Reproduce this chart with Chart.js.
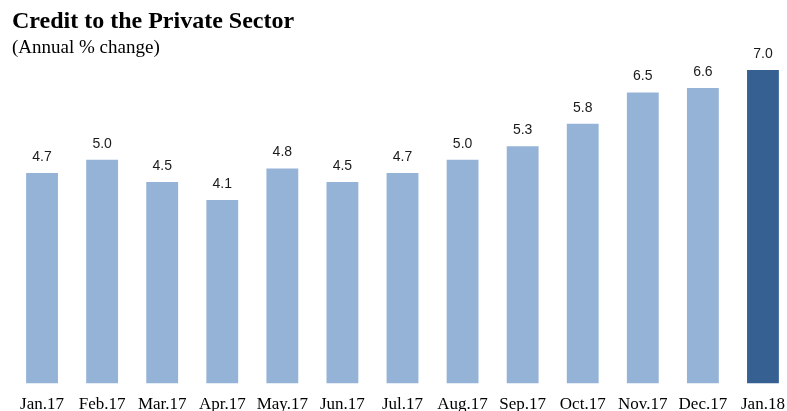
<!DOCTYPE html>
<html>
<head>
<meta charset="utf-8">
<script src="https://cdn.jsdelivr.net/npm/chart.js@4.4.1/dist/chart.umd.min.js"></script>
<style>
  html, body { margin: 0; padding: 0; background: #fff; overflow: hidden; }
  #wrap { width: 800px; height: 426px; }
</style>
</head>
<body>
<div id="wrap"><canvas id="creditChart" width="800" height="426"></canvas></div>
<script>
// Chart data
const months = ['Jan.17', 'Feb.17', 'Mar.17', 'Apr.17', 'May.17', 'Jun.17', 'Jul.17',
                'Aug.17', 'Sep.17', 'Oct.17', 'Nov.17', 'Dec.17', 'Jan.18'];
const growth = [4.7, 5.0, 4.5, 4.1, 4.8, 4.5, 4.7, 5.0, 5.3, 5.8, 6.5, 6.6, 7.0];

const lightBlue = '#95B3D7';
const darkBlue = '#366092';
const barColors = growth.map((v, i) => i === growth.length - 1 ? darkBlue : lightBlue);

// Draws the value above each bar
const valueLabels = {
    id: 'valueLabels',
    afterDatasetsDraw(chart) {
        const { ctx } = chart;
        const meta = chart.getDatasetMeta(0);
        ctx.save();
        ctx.font = '14px "Liberation Sans", Arial, sans-serif';
        ctx.fillStyle = '#1a1a1a';
        ctx.textAlign = 'center';
        ctx.textBaseline = 'bottom';
        meta.data.forEach((bar, i) => {
            ctx.fillText(growth[i].toFixed(1), bar.x, bar.y - 9);
        });
        ctx.restore();
    }
};

new Chart(document.getElementById('creditChart').getContext('2d'), {
    type: 'bar',
    data: {
        labels: months,
        datasets: [{
            data: growth,
            backgroundColor: barColors,
            borderWidth: 0,
            categoryPercentage: 1.0,
            barPercentage: 0.53
        }]
    },
    options: {
        responsive: false,
        animation: false,
        layout: { padding: { left: 12, right: 7, top: 0, bottom: 0 } },
        scales: {
            x: {
                grid: { display: false, drawTicks: false },
                border: { display: false },
                ticks: {
                    color: '#000',
                    padding: 11,
                    maxRotation: 0,
                    autoSkip: false,
                    font: { family: '"Liberation Serif", "Times New Roman", serif', size: 17 }
                }
            },
            y: {
                display: false,
                min: 0,
                max: 7.1
            }
        },
        plugins: {
            legend: { display: false },
            tooltip: { enabled: false },
            title: {
                display: true,
                text: 'Credit to the Private Sector',
                align: 'start',
                color: '#000',
                font: { family: '"Liberation Serif", "Times New Roman", serif', size: 24, weight: 'bold' },
                padding: { top: 7, bottom: 0 }
            },
            subtitle: {
                display: true,
                text: '(Annual % change)',
                align: 'start',
                color: '#000',
                font: { family: '"Liberation Serif", "Times New Roman", serif', size: 19 },
                padding: { top: 1, bottom: 6 }
            }
        }
    },
    plugins: [valueLabels]
});
</script>
</body>
</html>
